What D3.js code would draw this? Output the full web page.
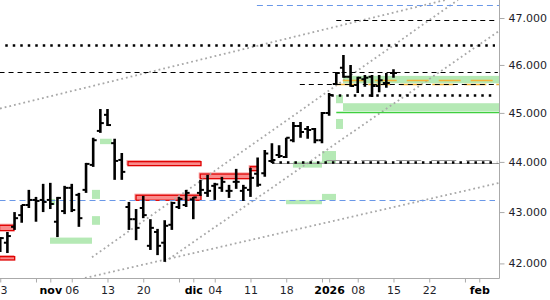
<!DOCTYPE html>
<html>
<head>
<meta charset="utf-8">
<script src="https://cdn.jsdelivr.net/npm/d3@7/dist/d3.min.js"></script>
<style>
  body { margin: 0; background: #fff; }
</style>
</head>
<body>
<div id="chart"></div>
<script>
// daily bars (trading days only)
var days = ['2025-10-23','2025-10-24','2025-10-27','2025-10-28','2025-10-29','2025-10-30','2025-10-31',
  '2025-11-03','2025-11-04','2025-11-05','2025-11-06','2025-11-07','2025-11-10','2025-11-11','2025-11-12',
  '2025-11-13','2025-11-14','2025-11-17','2025-11-18','2025-11-19','2025-11-20','2025-11-21','2025-11-24',
  '2025-11-25','2025-11-26','2025-11-27','2025-11-28','2025-12-01','2025-12-02','2025-12-03','2025-12-04',
  '2025-12-05','2025-12-08','2025-12-09','2025-12-10','2025-12-11','2025-12-12','2025-12-15','2025-12-16',
  '2025-12-17','2025-12-18','2025-12-19','2025-12-22','2025-12-23','2025-12-29','2025-12-30','2026-01-02',
  '2026-01-05','2026-01-06','2026-01-07','2026-01-08','2026-01-09','2026-01-12','2026-01-13','2026-01-14',
  '2026-01-15'];

var open = [42360,42400,42710,42940,43140,43240,43240,43240,42810,43020,43480,43340,43440,43940,44630,
  44960,44380,44040,43100,42860,43080,42340,42610,42400,42750,43100,43140,43250,43380,43380,43520,43480,
  43420,43600,43420,43440,43760,43770,44020,44140,44100,44440,44730,44670,44670,44440,45000,45600,45940,
  45750,45580,45700,45750,45560,45620,45830];
var high = [42510,42610,43000,43140,43440,43300,43560,43580,43300,43520,43560,43380,43980,44490,45080,
  45080,44470,44180,43200,43060,43320,42860,42670,42840,43200,43300,43440,43300,43640,43740,43580,43700,
  43540,43860,43540,43880,44090,44240,44380,44340,44490,44810,44810,44730,44690,45020,45410,45850,46210,
  46000,45750,45790,45790,45790,45830,45910];
var low = [42220,42200,42650,42790,43080,42810,43000,43060,42510,42960,43000,42710,43380,43900,44590,
  44730,43640,43640,42650,42450,42880,42260,42160,42030,42650,43060,43100,42860,43320,43300,43240,43400,
  43280,43460,43220,43300,43500,43700,43980,44080,44080,44400,44490,44470,44380,44380,44940,45580,45730,
  45540,45410,45540,45330,45430,45520,45730];
var close = [42490,42530,42880,43140,43240,43220,43200,43160,43280,43480,43040,42880,43960,44440,44790,
  44750,44020,43800,42860,42690,42940,42690,42340,42730,43180,43260,43380,43290,43440,43420,43550,43600,
  43420,43600,43480,43680,43540,44170,44040,44120,44490,44730,44610,44650,44440,45000,45370,45830,45750,
  45560,45730,45730,45560,45680,45620,45830];

// x axis ticks, as bar index (future days continue the trading calendar)
var tickIndex = [0, 5, 7, 10, 15, 20, 25, 27, 30, 35, 40, 45, 46, 50, 55, 60, 65, 67];
var tickLabels = ['3', '', 'nov', '06', '13', '20', '', 'dic', '04', '11', '18', '', '2026', '08', '15', '22', '', 'feb'];
var monthLabels = ['nov', 'dic', '2026', 'feb'];

var priceTicks = [42000, 43000, 44000, 45000, 46000, 47000];

// horizontal levels
var levelKind  = ['blue', 'dash', 'dotBold', 'dash', 'orange', 'orange', 'dash', 'dotBold', 'green', 'blue', 'gray', 'grayDash', 'dotBold'];
var levelValue = [47280, 46950, 46430, 45850, 45680, 45590, 45590, 45370, 45010, 43230, 43970, 44040, 44000];
var levelStart = [35.9, 47, 0.7, -0.1, 47.9, 47, 41.9, 46.3, 47, -0.1, 38, 45.6, 38];
var levelEnd   = [70, 69.6, 69.2, 69.6, 70, 70, 69.6, 69.2, 70, 69.2, 70, 69.5, 69.5];

// zones (green = support, red = resistance)
var zoneKind  = ['g','g','g','g','g','g','g','g','g','g','g','g','g','r','r','r','r','r','r'];
var zoneStart = [13.95,12.83,12.83,6.96,6.96,45,40.94,39.97,45,46.96,47.94,46.96,47.94,-0.1,-0.1,17.87,18.99,27.98,34.97];
var zoneEnd   = [15.59,13.95,13.95,12.83,7.66,46.96,45,45,46.96,47.94,70,47.94,70,1.92,2.02,28.08,28.08,35.03,36.0];
var zoneLow   = [44360,43260,42750,42380,43140,43975,43885,43155,43240,45200,45040,44670,45615,42635,42066,43925,43233,43663,43823];
var zoneHigh  = [44470,43440,42920,42500,43260,44220,44005,43240,43360,45370,45200,44875,45770,42740,42130,44005,43333,43757,43904];

// trend lines
var trendStart = [-0.035, 12.83, 23, 11.85];
var trendEnd   = [62.24, 64.02, 69.83, 69.83];
var trendFrom  = [45090, 42120, 42030, 41720];
var trendTo    = [47390, 47390, 46730, 43580];

var width = 550, height = 300,
  plotW = 499.5, plotH = 278;

var styles = {
  blue:     { stroke: '#6a98e8', width: 1,   dash: '6,4' },
  dash:     { stroke: '#000',    width: 1,   dash: '5,4' },
  dotBold:  { stroke: '#000',    width: 2.5, dash: '2.5,5' },
  orange:   { stroke: '#f5b335', width: 1.5, dash: '22,10' },
  green:    { stroke: '#3fcf3f', width: 1.5, dash: null },
  gray:     { stroke: '#999',    width: 1.2, dash: null },
  grayDash: { stroke: '#999',    width: 1.2, dash: '25,10' }
};

var x = d3.scaleLinear().domain([-0.035, 69.83]).range([0, plotW]);
var y = d3.scaleLog().domain([41720, 47390]).range([plotH, 0]);

var svg = d3.select('#chart').append('svg')
  .attr('width', width).attr('height', height)
  .style('font-family', 'DejaVu Sans, sans-serif');

svg.append('clipPath').attr('id', 'plot')
  .append('rect').attr('width', plotW).attr('height', plotH);

var plot = svg.append('g').attr('clip-path', 'url(#plot)');

// zones
zoneKind.forEach(function(k, i) {
  var x0 = x(zoneStart[i]), x1 = x(zoneEnd[i]),
    y0 = y(zoneHigh[i]), y1 = y(zoneLow[i]);
  if (k === 'g') {
    plot.append('rect')
      .attr('x', x0).attr('y', y0).attr('width', x1 - x0).attr('height', y1 - y0)
      .attr('fill', '#b5e9b5');
  } else {
    plot.append('rect')
      .attr('x', x0 - 1).attr('y', y0 - 1).attr('width', x1 - x0).attr('height', y1 - y0)
      .attr('fill', 'none').attr('stroke', '#f7a0a0').attr('stroke-width', 1.2);
    plot.append('rect')
      .attr('x', x0).attr('y', y0).attr('width', x1 - x0).attr('height', y1 - y0)
      .attr('fill', '#f98c8c').attr('stroke', '#e00000').attr('stroke-width', 1.3);
  }
});

// trend lines
trendStart.forEach(function(s, i) {
  plot.append('line')
    .attr('x1', x(s)).attr('y1', y(trendFrom[i]))
    .attr('x2', x(trendEnd[i])).attr('y2', y(trendTo[i]))
    .attr('stroke', '#a8a8a8').attr('stroke-width', 1.8)
    .attr('stroke-dasharray', '1.8,3');
});

// levels
levelKind.forEach(function(k, i) {
  var st = styles[k];
  var yy = Math.round(y(levelValue[i])) + 0.5;
  plot.append('line')
    .attr('x1', x(levelStart[i])).attr('x2', x(levelEnd[i]))
    .attr('y1', yy).attr('y2', yy)
    .attr('stroke', st.stroke).attr('stroke-width', st.width)
    .attr('stroke-dasharray', st.dash);
});

// OHLC bars
var bars = plot.append('g');
days.forEach(function(d, i) {
  var cx = x(i);
  bars.append('line')
    .attr('x1', cx).attr('x2', cx).attr('y1', y(high[i])).attr('y2', y(low[i]))
    .attr('stroke', '#000').attr('stroke-width', 2.6);
  bars.append('line')
    .attr('x1', cx - 3.5).attr('x2', cx).attr('y1', y(open[i])).attr('y2', y(open[i]))
    .attr('stroke', '#000').attr('stroke-width', 2);
  bars.append('line')
    .attr('x1', cx).attr('x2', cx + 3.5).attr('y1', y(close[i])).attr('y2', y(close[i]))
    .attr('stroke', '#000').attr('stroke-width', 2);
});

/* axes */
svg.append('line')
  .attr('x1', 0).attr('x2', plotW).attr('y1', plotH + 0.5).attr('y2', plotH + 0.5)
  .attr('stroke', '#aaa');
svg.append('line')
  .attr('x1', plotW).attr('x2', plotW).attr('y1', 0).attr('y2', plotH + 0.5)
  .attr('stroke', '#aaa');

var yAxis = svg.append('g')
  .attr('transform', 'translate(' + plotW + ',0)')
  .call(d3.axisRight(y).tickValues(priceTicks).tickSize(5).tickPadding(4)
    .tickFormat(function(d) { return d3.format(',')(d).replace(',', '.'); }));

var xAxis = svg.append('g')
  .attr('transform', 'translate(0,' + (plotH + 0.5) + ')')
  .call(d3.axisBottom(x).tickValues(tickIndex).tickSize(4).tickPadding(4)
    .tickFormat(function(d, i) { return tickLabels[i]; }));

[yAxis, xAxis].forEach(function(a) {
  a.select('.domain').remove();
  a.selectAll('.tick line').attr('stroke', '#aaa');
  a.selectAll('.tick text')
    .attr('fill', '#1e1e2a')
    .style('font-size', '11px')
    .style('font-family', 'DejaVu Sans, sans-serif');
});

// first label sits on the left edge
xAxis.selectAll('.tick text')
  .filter(function(d, i) { return i === 0; })
  .attr('text-anchor', 'start')
  .attr('x', -0.25);

xAxis.selectAll('.tick text')
  .filter(function(d, i) { return monthLabels.indexOf(tickLabels[i]) >= 0; })
  .style('font-weight', 'bold')
  .attr('fill', '#000');
</script>
</body>
</html>
